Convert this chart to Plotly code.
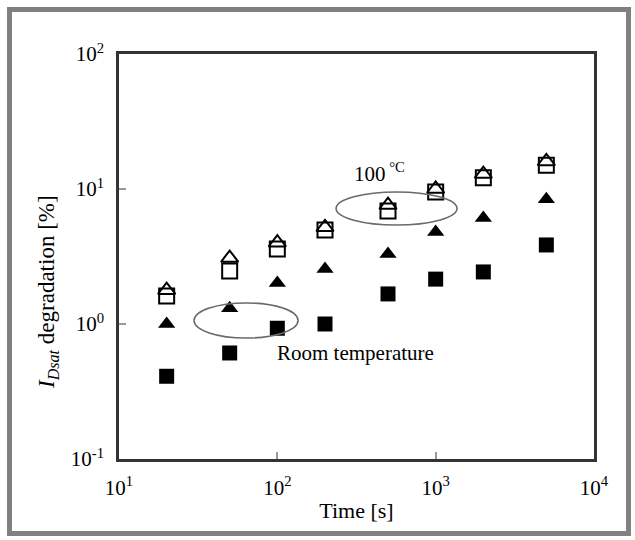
import numpy as np
import plotly.graph_objects as go

# Stress time [s]
time_s = [20, 50, 100, 200, 500, 1000, 2000, 5000]

# I_Dsat degradation [%] at 100 °C
hot_square = [1.61, 2.47, 3.6, 4.97, 6.87, 9.5, 12.1, 15.0]
hot_triangle = [1.78, 3.08, 4.0, 5.2, 7.6, 10.0, 12.9, 16.0]

# I_Dsat degradation [%] at room temperature
rt_triangle = [1.0, 1.31, 2.01, 2.56, 3.3, 4.8, 6.1, 8.4]
rt_square = [0.41, 0.61, 0.93, 1.0, 1.67, 2.15, 2.43, 3.85]

x_ticks = [10, 100, 1000, 10000]
x_tick_text = ["10<sup>1</sup>", "10<sup>2</sup>", "10<sup>3</sup>", "10<sup>4</sup>"]
y_ticks = [0.1, 1, 10, 100]
y_tick_text = ["10<sup>-1</sup>", "10<sup>0</sup>", "10<sup>1</sup>", "10<sup>2</sup>"]

W, H = 635, 540
L, R, T, B = 119, 594, 54, 459
FONT = "Liberation Serif, Times New Roman, serif"

fig = go.Figure()

def add_series(y, symbol, lw=2):
    fig.add_trace(go.Scatter(
        x=time_s, y=y, mode="markers", showlegend=False,
        marker=dict(symbol=symbol, size=15, color="black",
                    line=dict(color="black", width=lw)),
    ))

add_series(hot_square, "square-open")
add_series(hot_triangle, "triangle-up-open")
add_series(rt_triangle, "triangle-up", lw=0)
add_series(rt_square, "square", lw=0)

# group ellipses (data values on log axes)
fig.add_shape(type="circle", xref="x", yref="y",
              x0=10**2.371, x1=10**3.135, y0=10**0.733, y1=10**0.978,
              line=dict(color="#6a6a6a", width=1.6))
fig.add_shape(type="circle", xref="x", yref="y",
              x0=10**1.474, x1=10**2.131, y0=10**-0.104, y1=10**0.156,
              line=dict(color="#6a6a6a", width=1.6))

fig.add_annotation(x=np.log10(296), y=np.log10(13.2), xref="x", yref="y",
                   text="100<sup> °C</sup>", showarrow=False,
                   xanchor="left", font=dict(family=FONT, size=21, color="black"))
fig.add_annotation(x=np.log10(96.6), y=np.log10(0.61), xref="x", yref="y",
                   text="Room temperature", showarrow=False,
                   xanchor="left", font=dict(family=FONT, size=21, color="black"))

# outer frame around the whole figure
def px_to_paper_x(px):
    return (px - L) / (R - L)

def px_to_paper_y(py):
    return (B - py) / (B - T)

fig.add_shape(type="rect", xref="paper", yref="paper",
              x0=px_to_paper_x(9.5), x1=px_to_paper_x(628.5),
              y0=px_to_paper_y(533.5), y1=px_to_paper_y(9.5),
              line=dict(color="#808080", width=5), layer="below")

# y-axis title, placed a little below the axis centre
fig.add_annotation(x=px_to_paper_x(48), y=px_to_paper_y(292), xref="paper", yref="paper",
                   text="<i>I<sub>Dsat</sub></i> degradation [%]", textangle=-90,
                   showarrow=False, xanchor="center", yanchor="middle",
                   font=dict(family=FONT, size=23, color="black"))

axis_common = dict(
    type="log", showgrid=False, zeroline=False,
    showline=True, linecolor="#333333", linewidth=2.5, mirror=True,
    ticks="inside", ticklen=7, tickwidth=2, tickcolor="#999999",
    tickfont=dict(family=FONT, size=21, color="black"),
)

fig.update_xaxes(**axis_common, range=[1, 4], tickvals=x_ticks, ticktext=x_tick_text,
                 ticklabelstandoff=8,
                 title=dict(text="Time [s]", font=dict(family=FONT, size=22, color="black"),
                            standoff=4))
fig.update_yaxes(**axis_common, range=[-1, 2], tickvals=y_ticks, ticktext=y_tick_text,
                 ticklabelstandoff=8)

fig.update_layout(
    width=W, height=H,
    margin=dict(l=L, r=W - R, t=T, b=H - B),
    paper_bgcolor="white", plot_bgcolor="white",
)

fig.write_html("out.html")
